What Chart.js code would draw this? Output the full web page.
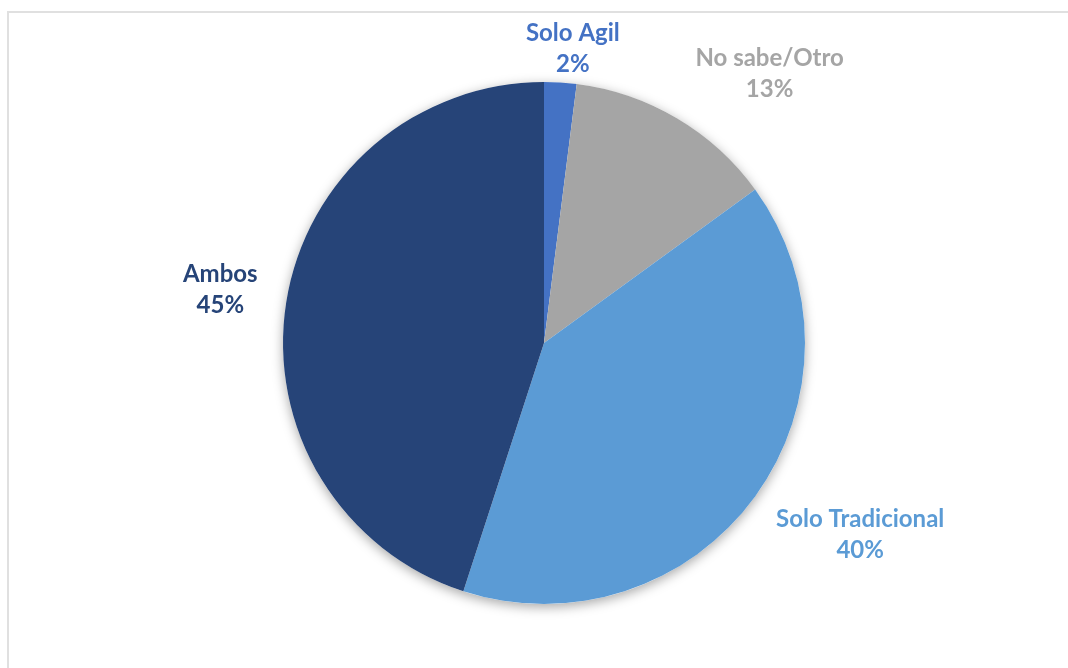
<!DOCTYPE html>
<html>
<head>
<meta charset="utf-8">
<script src="https://cdn.jsdelivr.net/npm/chart.js@4/dist/chart.umd.min.js"></script>
<style>
  html, body { margin: 0; padding: 0; background: #ffffff; overflow: hidden; }
  #marco {
    position: absolute; left: 7px; top: 11px;
    width: 1200px; height: 800px;
    border: 2px solid #e0e0e0; box-sizing: border-box;
  }
  #lienzo { position: absolute; left: 0; top: 0; }
</style>
</head>
<body>
<div id="marco"></div>
<canvas id="lienzo" width="1068" height="668"></canvas>
<script>
// Categorías y porcentajes de la encuesta
const categorias = ['Solo Agil', 'No sabe/Otro', 'Solo Tradicional', 'Ambos'];
const porcentajes = [2, 13, 40, 45];
const colores = ['#4472c4', '#a5a5a5', '#5b9bd5', '#264478'];

// Ubicación de cada etiqueta: distancia extra al borde y giro (grados) respecto al centro de la porción
const ubicacionEtiquetas = [
  { extra: 35, giro: 2 },
  { extra: 90, giro: 9.4 },
  { extra: 109, giro: -4.7 },
  { extra: 67, giro: 0.3 }
];

// Sombra suave bajo el círculo completo
const sombraPastel = {
  id: 'sombraPastel',
  beforeDatasetsDraw(chart) {
    const arco = chart.getDatasetMeta(0).data[0];
    if (!arco) return;
    const ctx = chart.ctx;
    ctx.save();
    ctx.shadowColor = 'rgba(0, 0, 0, 0.35)';
    ctx.shadowBlur = 12;
    ctx.shadowOffsetY = 3;
    ctx.fillStyle = '#ffffff';
    ctx.beginPath();
    ctx.arc(arco.x, arco.y, arco.outerRadius, 0, Math.PI * 2);
    ctx.fill();
    ctx.restore();
  }
};

// Etiquetas externas: nombre y porcentaje, del color de la porción
const etiquetasExternas = {
  id: 'etiquetasExternas',
  afterDatasetsDraw(chart) {
    const ctx = chart.ctx;
    const meta = chart.getDatasetMeta(0);
    ctx.save();
    ctx.font = 'bold 24px Lato, "Open Sans", sans-serif';
    ctx.textAlign = 'center';
    ctx.textBaseline = 'middle';
    meta.data.forEach((arco, i) => {
      const u = ubicacionEtiquetas[i];
      const medio = (arco.startAngle + arco.endAngle) / 2 + u.giro * Math.PI / 180;
      const r = arco.outerRadius + u.extra;
      const x = arco.x + Math.cos(medio) * r;
      const y = arco.y + Math.sin(medio) * r;
      ctx.fillStyle = colores[i];
      ctx.fillText(categorias[i], x, y - 15.5);
      ctx.fillText(porcentajes[i] + '%', x, y + 15.5);
    });
    ctx.restore();
  }
};

new Chart(document.getElementById('lienzo'), {
  type: 'pie',
  data: {
    labels: categorias,
    datasets: [{
      data: porcentajes,
      backgroundColor: colores,
      borderWidth: 0,
      hoverOffset: 0
    }]
  },
  options: {
    responsive: false,
    animation: false,
    layout: { padding: { left: 283, right: 263, top: 82, bottom: 64 } },
    plugins: {
      legend: { display: false },
      tooltip: { enabled: false }
    }
  },
  plugins: [sombraPastel, etiquetasExternas]
});
</script>
</body>
</html>
